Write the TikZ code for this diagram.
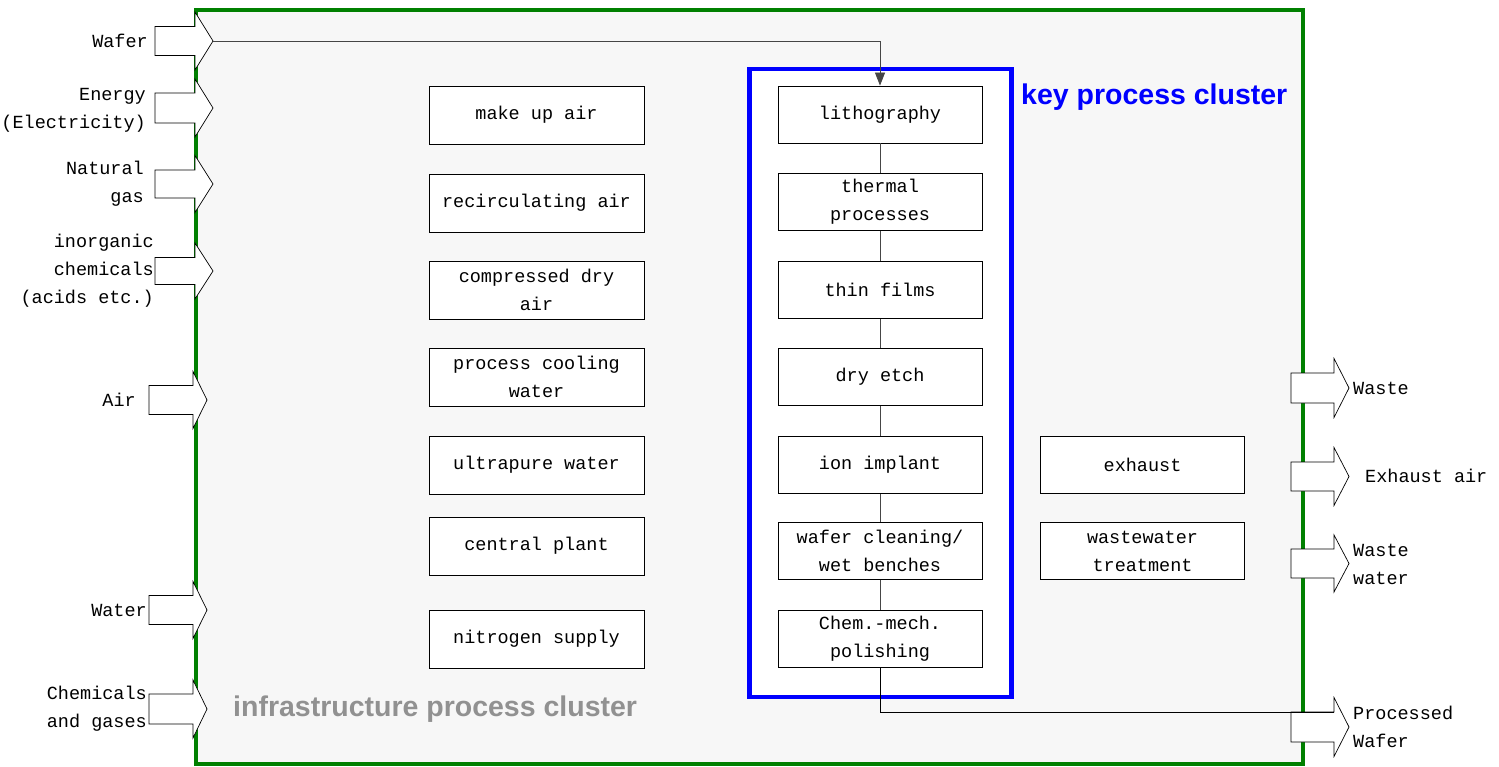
\documentclass[tikz,border=0pt]{standalone}
\usepackage{fontspec}
\setmainfont{Liberation Mono}
\newfontfamily\headfont{Liberation Sans}
\usetikzlibrary{arrows.meta}
\definecolor{framegreen}{RGB}{0,128,0}
\definecolor{framefill}{RGB}{247,247,247}
\definecolor{keyblue}{RGB}{0,0,255}
\definecolor{infragray}{RGB}{145,145,145}
\definecolor{linkgray}{RGB}{70,70,70}
\tikzset{
  every node/.style={font=\fontsize{18.5}{28}\selectfont},
  unit/.style={draw=black, line width=0.8pt, fill=white, align=center, inner sep=0pt},
  infra/.style={unit, minimum width=215pt, minimum height=58pt},
  keyunit/.style={unit, minimum width=204pt, minimum height=57pt},
  inlabel/.style={anchor=east, align=right, inner sep=0pt},
  outlabel/.style={anchor=west, align=left, inner sep=0pt},
  blockarr/.style={draw=black, line width=0.7pt, fill=white, line join=miter},
  link/.style={draw=linkgray, line width=0.8pt},
  clustertitle/.style={font=\headfont\bfseries\fontsize{28.5}{32}\selectfont, inner sep=0pt}
}
% block arrow: #1 tail x, #2 head base x, #3 tip x, #4 centre y, #5 half body, #6 half head
\newcommand\flowarrow[6]{%
  \draw[blockarr] (#1,{#4-#5}) -- (#2,{#4-#5}) -- (#2,{#4-#6}) -- (#3,#4)
    -- (#2,{#4+#6}) -- (#2,{#4+#5}) -- (#1,{#4+#5}) -- cycle;}
\begin{document}
\begin{tikzpicture}[x=1pt,y=-1pt]
\useasboundingbox[fill=white] (0,0) rectangle (1499,767);

% plant boundary
\draw[framegreen, line width=4pt, fill=framefill] (196,10) rectangle (1303,764);
\node[clustertitle, text=infragray, anchor=west] (infratitle) at (233,709) {infrastructure process cluster};

% key process cluster frame
\draw[keyblue, line width=4.5pt, fill=white] (749.5,69) rectangle (1011.5,697);
\node[clustertitle, text=keyblue, anchor=west] (keytitle) at (1021,97) {key process cluster};

% infrastructure units
\node[infra] (mua)   at (536.5,115) {make up air};
\node[infra] (rca)   at (536.5,203) {recirculating air};
\node[infra] (cda)   at (536.5,290) {compressed dry\\air};
\node[infra] (pcw)   at (536.5,377) {process cooling\\water};
\node[infra] (upw)   at (536.5,465) {ultrapure water};
\node[infra] (cp)    at (536.5,546) {central plant};
\node[infra] (n2)    at (536.5,639) {nitrogen supply};

% key process units
\node[keyunit] (litho) at (880,114.5) {lithography};
\node[keyunit] (therm) at (880,202)   {thermal\\processes};
\node[keyunit] (thin)  at (880,290)   {thin films};
\node[keyunit] (etch)  at (880,377)   {dry etch};
\node[keyunit] (ion)   at (880,465)   {ion implant};
\node[keyunit] (wet)   at (880,551)   {wafer cleaning/\\wet benches};
\node[keyunit] (cmp)   at (880,639)   {Chem.-mech.\\polishing};

% outgoing treatment units
\node[keyunit] (exh)   at (1142.5,465) {exhaust};
\node[keyunit] (wwt)   at (1142.5,551) {wastewater\\treatment};

% process chain
\draw[link] (litho.south) -- (therm.north);
\draw[link] (therm.south) -- (thin.north);
\draw[link] (thin.south)  -- (etch.north);
\draw[link] (etch.south)  -- (ion.north);
\draw[link] (ion.south)   -- (wet.north);
\draw[link] (wet.south)   -- (cmp.north);

% inputs
\flowarrow{155}{195}{213}{41}{14.5}{29}
\flowarrow{155}{195}{213}{108}{15}{29}
\flowarrow{155}{195}{213}{184}{14}{28.5}
\flowarrow{155}{195}{213}{271}{13.5}{28}
\flowarrow{149}{193}{207}{400}{14.5}{28.5}
\flowarrow{149}{193}{207}{610}{14.5}{28.5}
\flowarrow{149}{193}{207}{709}{15}{29}
\coordinate (waferin) at (213,41);

\node[inlabel] (lwafer) at (148,41)  {Wafer};
\node[inlabel] (lenergy) at (146,110) {Energy\\(Electricity)};
\node[inlabel] (lgas)   at (144,184) {Natural\\gas};
\node[inlabel] (lchem)  at (154,271) {inorganic\\chemicals\\(acids etc.)};
\node[inlabel] (lair)   at (136,400) {Air};
\node[inlabel] (lwater) at (147,610) {Water};
\node[inlabel] (lgases) at (147,709) {Chemicals\\and gases};

% outputs
\flowarrow{1291}{1334}{1349}{388}{15}{29.5}
\flowarrow{1291}{1334}{1349}{476.5}{14.5}{29}
\flowarrow{1291}{1334}{1349}{563.5}{14.5}{28.5}
\flowarrow{1291}{1334}{1349}{727}{15}{29.5}
\coordinate (waferout) at (1334,712);

\node[outlabel] (lwaste)   at (1353,388) {Waste};
\node[outlabel] (lexhaust) at (1365,476) {Exhaust air};
\node[outlabel] (lwwater)  at (1353,564) {Waste\\water};
\node[outlabel] (lpwafer)  at (1353,727) {Processed\\Wafer};

% wafer flow through the key processes
\draw[link, -{Triangle[length=13pt,width=10pt]}] (waferin) -| (litho.north);
\draw[draw=black, line width=0.8pt] (cmp.south) |- (waferout);
\end{tikzpicture}
\end{document}
